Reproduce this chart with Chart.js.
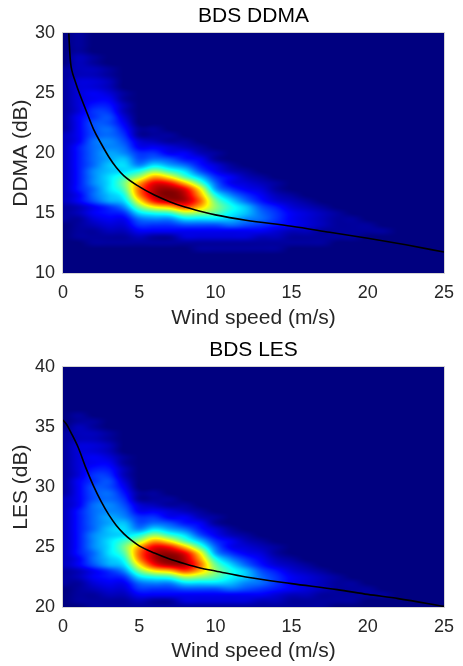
<!DOCTYPE html>
<html>
<head>
<meta charset="utf-8">
<script src="https://cdn.jsdelivr.net/npm/chart.js@4.4.1/dist/chart.umd.min.js"></script>
<style>
  body { margin: 0; background: #ffffff; }
  .panel { width: 463px; height: 333px; }
</style>
</head>
<body>
<div class="panel"><canvas id="ddma-chart" width="463" height="333"></canvas></div>
<div class="panel"><canvas id="les-chart" width="463" height="333"></canvas></div>
<script>
// --- values ---
const xTicks = [0, 5, 10, 15, 20, 25];
const ddmaTicks = [10, 15, 20, 25, 30];
const lesTicks = [20, 25, 30, 35, 40];

// fitted curves (black lines)
const ddmaCurveX = [0.38, 0.44, 0.5, 0.58, 0.8, 1.1, 1.5, 2, 2.5, 3, 3.5, 4, 5, 6, 7, 8, 9, 10, 12, 15, 17.5, 20, 22.5, 25];
const ddmaCurveY = [30, 28.5, 27.5, 26.9, 26.0, 24.9, 23.6, 22.0, 20.8, 19.7, 18.8, 18.1, 17.2, 16.5, 15.95, 15.5, 15.15, 14.85, 14.4, 13.9, 13.4, 12.9, 12.35, 11.75];
const lesCurveX = [0, 0.25, 0.5, 1, 1.5, 2, 2.5, 3, 3.5, 4, 4.5, 5, 6, 7, 8, 9, 10, 12, 15, 18, 20, 22, 25];
const lesCurveY = [35.6, 35.2, 34.6, 33.3, 31.6, 30.1, 28.8, 27.7, 26.8, 26.1, 25.55, 25.1, 24.5, 24.0, 23.6, 23.25, 23.0, 22.5, 21.95, 21.45, 21.05, 20.7, 20.05];

// density cells: one column per wind speed below, one base-36 digit per cell
// (0 = empty, z = densest), rows listed from the top of the plot down
const densityX = [0, 1, 2, 3, 4, 5, 6, 7, 8, 9, 10, 11, 12, 13, 14, 15, 16, 17, 18, 19, 20, 21, 22, 23, 24, 25];

const ddmaRowY = [30, 29.5, 29, 28.5, 28, 27.5, 27, 26.5, 26, 25.5, 25, 24.5, 24, 23.5, 23, 22.5, 22, 21.5, 21, 20.5,
  20, 19.5, 19, 18.5, 18, 17.5, 17, 16.5, 16, 15.5, 15, 14.5, 14, 13.5, 13, 12.5, 12, 11.5, 11, 10.5, 10];
const ddmaRows = [
  "01",
  "01",
  "01",
  "01",
  "021",
  "021",
  "1221",
  "1221",
  "1332",
  "1332",
  "13431",
  "13441",
  "13552",
  "13662",
  "14673",
  "14774",
  "1478511",
  "24786111",
  "248973211",
  "2589844321",
  "258a9664421",
  "258ab787541",
  "258bc9ca8531",
  "259bceifc7421",
  "259cfjpmgb6421",
  "259chpvuog84321",
  "258cgrxyvma6431",
  "248beqxzxpe96421",
  "247acmuxxrhc85321",
  "12469hmosoieb75321",
  "12456cefjigdb864321",
  "11344899cccb98643211",
  "012336667778765432111",
  "0112244444444432211111",
  "01111211333332211111",
  "001111111111111111",
  "000000000111111",
  "0",
  "0",
  "0",
  "0"
];

const lesRowY = [40, 39.5, 39, 38.5, 38, 37.5, 37, 36.5, 36, 35.5, 35, 34.5, 34, 33.5, 33, 32.5, 32, 31.5, 31, 30.5,
  30, 29.5, 29, 28.5, 28, 27.5, 27, 26.5, 26, 25.5, 25, 24.5, 24, 23.5, 23, 22.5, 22, 21.5, 21, 20.5, 20];
const lesRows = [
  "0",
  "0",
  "0",
  "0",
  "0",
  "0",
  "0",
  "0",
  "01",
  "011",
  "021",
  "1221",
  "1221",
  "1332",
  "1332",
  "13431",
  "13441",
  "13552",
  "13662",
  "14673",
  "14774",
  "1478511",
  "24786111",
  "248973211",
  "2589844321",
  "258a9664421",
  "258ab787541",
  "258bc9ca8531",
  "259bceifc7421",
  "259cfjpmgb6421",
  "259chpvuog84321",
  "258cgrxyvma6431",
  "248beqxzxpe96421",
  "247acmuxxrhc85321",
  "12469hmosoieb75321",
  "12456cefjigdb864321",
  "11344899cccb98643211",
  "012336667778765432111",
  "0112244444444432211111",
  "01111211333332211111",
  "001111111111111111"
];

const FONT = "'Liberation Sans', Arial, Helvetica, sans-serif";
const TEXT = '#262626';
const LEVELS = 35;

// MATLAB jet colormap
function jet(v) {
  const c = t => Math.max(0, Math.min(1, t));
  return [
    Math.round(255 * c(1.5 - Math.abs(4 * v - 3))),
    Math.round(255 * c(1.5 - Math.abs(4 * v - 2))),
    Math.round(255 * c(1.5 - Math.abs(4 * v - 1)))
  ];
}

function parseRows(rows) {
  return rows.map(r => densityX.map((_, i) => parseInt(r[i] || '0', 36)));
}

function catmull(p0, p1, p2, p3, t) {
  return p1 + 0.5 * t * (p2 - p0 + t * (2 * p0 - 5 * p1 + 4 * p2 - p3 + t * (3 * (p1 - p2) + p3 - p0)));
}

function sampleGrid(grid, fi, fj) {
  const nr = grid.length, nc = grid[0].length;
  const i = Math.floor(fi), j = Math.floor(fj);
  const tx = fi - i, ty = fj - j;
  const g = (r, c) => grid[Math.max(0, Math.min(nr - 1, r))][Math.max(0, Math.min(nc - 1, c))];
  const col = [];
  for (let k = -1; k <= 2; k++) {
    col.push(catmull(g(j + k, i - 1), g(j + k, i), g(j + k, i + 1), g(j + k, i + 2), tx));
  }
  return catmull(col[0], col[1], col[2], col[3], ty);
}

// paints the density cells under the line, pixel by pixel through the chart scales
const densityPlugin = {
  id: 'density',
  beforeDatasetsDraw(chart, args, opts) {
    const { ctx, chartArea: a, scales: { x, y } } = chart;
    const grid = parseRows(opts.rows);
    const rowY = opts.rowY;
    const yStep = rowY[0] - rowY[1];
    const xStep = densityX[1] - densityX[0];
    const left = Math.round(a.left), top = Math.round(a.top);
    const w = Math.round(a.right) - left, h = Math.round(a.bottom) - top;
    const img = ctx.createImageData(w, h);
    for (let py = 0; py < h; py++) {
      const fj = (rowY[0] - y.getValueForPixel(top + py + 0.5)) / yStep;
      for (let px = 0; px < w; px++) {
        const fi = (x.getValueForPixel(left + px + 0.5) - densityX[0]) / xStep;
        const v = Math.max(0, Math.min(LEVELS, sampleGrid(grid, fi, fj))) / LEVELS;
        const rgb = jet(v);
        const k = (py * w + px) * 4;
        img.data[k] = rgb[0];
        img.data[k + 1] = rgb[1];
        img.data[k + 2] = rgb[2];
        img.data[k + 3] = 255;
      }
    }
    ctx.putImageData(img, left, top);
  },
  afterDatasetsDraw(chart) {
    const { ctx, chartArea: a } = chart;
    ctx.save();
    ctx.strokeStyle = '#d4d4d4';
    ctx.lineWidth = 1;
    ctx.strokeRect(Math.round(a.left) - 0.5, Math.round(a.top) - 0.5, Math.round(a.right - a.left) + 1, Math.round(a.bottom - a.top) + 1);
    ctx.restore();
  }
};

function makeChart(canvasId, cfg) {
  const canvas = document.getElementById(canvasId);
  return new Chart(canvas.getContext('2d'), {
    type: 'line',
    data: {
      datasets: [{
        data: cfg.curveX.map((xv, i) => ({ x: xv, y: cfg.curveY[i] })),
        borderColor: '#000000',
        borderWidth: 1.6,
        pointRadius: 0,
        cubicInterpolationMode: 'monotone',
        fill: false
      }]
    },
    options: {
      responsive: false,
      animation: false,
      events: [],
      layout: { padding: { top: 0, right: 12, bottom: 0, left: 0 } },
      plugins: {
        legend: { display: false },
        tooltip: { enabled: false },
        title: {
          display: true,
          fullSize: false,
          text: cfg.title,
          color: '#000000',
          font: { family: FONT, size: 21, weight: 'normal' },
          padding: { top: cfg.titleTop, bottom: 4 }
        },
        density: { rows: cfg.rows, rowY: cfg.rowY }
      },
      scales: {
        x: {
          type: 'linear',
          min: 0,
          max: 25,
          afterBuildTicks: s => { s.ticks = xTicks.map(v => ({ value: v })); },
          afterFit: s => { s.height = cfg.xHeight; },
          grid: { display: false, drawTicks: false },
          border: { display: false },
          ticks: { padding: 9, color: TEXT, maxRotation: 0, autoSkip: false, font: { family: FONT, size: 18 } },
          title: {
            display: true,
            text: 'Wind speed (m/s)',
            color: TEXT,
            font: { family: FONT, size: 21 },
            padding: { top: 0, bottom: 2 }
          }
        },
        y: {
          type: 'linear',
          min: cfg.yTicks[0],
          max: cfg.yTicks[cfg.yTicks.length - 1],
          afterBuildTicks: s => { s.ticks = cfg.yTicks.map(v => ({ value: v })); },
          afterFit: s => { s.width = 63; },
          grid: { display: false, drawTicks: false },
          border: { display: false },
          ticks: { padding: 8, color: TEXT, autoSkip: false, font: { family: FONT, size: 18 } },
          title: {
            display: true,
            text: cfg.yTitle,
            color: TEXT,
            font: { family: FONT, size: 21 },
            padding: { top: 9, bottom: 0 }
          }
        }
      }
    },
    plugins: [densityPlugin]
  });
}

makeChart('ddma-chart', {
  title: 'BDS DDMA', yTitle: 'DDMA (dB)', yTicks: ddmaTicks,
  curveX: ddmaCurveX, curveY: ddmaCurveY,
  rows: ddmaRows, rowY: ddmaRowY,
  titleTop: 4, xHeight: 60
});

makeChart('les-chart', {
  title: 'BDS LES', yTitle: 'LES (dB)', yTicks: lesTicks,
  curveX: lesCurveX, curveY: lesCurveY,
  rows: lesRows, rowY: lesRowY,
  titleTop: 5, xHeight: 59
});
</script>
</body>
</html>
